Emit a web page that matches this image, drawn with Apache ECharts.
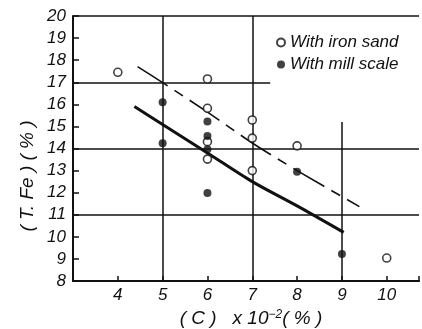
<!DOCTYPE html>
<html>
<head>
<meta charset="utf-8">
<script src="https://cdn.jsdelivr.net/npm/echarts@6/dist/echarts.min.js"></script>
<style>
  html, body { margin: 0; padding: 0; background: #fff; }
  #chart { width: 422px; height: 329px; }
</style>
</head>
<body>
<div id="chart"></div>
<script>
// 数据
var ironX = [4, 6, 6, 6, 6, 7, 7, 7, 8, 10];
var ironY = [17.45, 17.15, 15.82, 14.31, 13.52, 15.29, 14.47, 13.0, 14.12, 9.04];
var millX = [5, 5, 6, 6, 6, 6, 8, 9];
var millY = [16.09, 14.24, 15.22, 14.57, 13.97, 11.98, 12.95, 9.22];
var ironLineX = [4.44, 5, 6, 7, 8, 9.39];
var ironLineY = [17.71, 16.98, 15.65, 14.25, 13.0, 11.37];
var millLineX = [4.37, 5, 6, 7, 8, 9.04];
var millLineY = [15.9, 15.09, 13.8, 12.5, 11.4, 10.2];
var legendNames = ['With iron sand', 'With mill scale'];

function pairs(xs, ys) {
  var out = [];
  for (var i = 0; i < xs.length; i++) out.push([xs[i], ys[i]]);
  return out;
}

var font = 'Liberation Sans';
var chart = echarts.init(document.getElementById('chart'));

// 网格线（手绘图里有的只画了一段）
var gridLines = [
  { xAxis: 5 },
  { xAxis: 7 },
  [{ coord: [9, 8] }, { coord: [9, 15.2] }],
  { yAxis: 11 },
  { yAxis: 14 },
  [{ coord: [3, 17] }, { coord: [7.4, 17] }],
  { yAxis: 20 }
];

var option = {
  backgroundColor: '#fff',
  animation: false,
  grid: { left: 73, top: 16, right: 0, bottom: 48 },
  legend: {
    data: legendNames,
    orient: 'vertical',
    left: 271,
    top: 29,
    itemWidth: 8,
    itemHeight: 8,
    itemGap: 5,
    textStyle: { fontFamily: font, fontStyle: 'italic', fontSize: 17, color: '#111' }
  },
  xAxis: {
    type: 'value',
    min: 3,
    max: 10.72,
    interval: 1,
    axisLine: { lineStyle: { color: '#111', width: 2 } },
    axisTick: { inside: true, length: 5, lineStyle: { color: '#111', width: 1.5 } },
    splitLine: { show: false },
    axisLabel: {
      margin: 6,
      fontFamily: font, fontStyle: 'italic', fontSize: 17, color: '#111',
      formatter: function (v) { return (v >= 4 && v === Math.round(v)) ? v : ''; }
    }
  },
  yAxis: {
    type: 'value',
    min: 8,
    max: 20,
    interval: 1,
    axisLine: { lineStyle: { color: '#111', width: 2 } },
    axisTick: { inside: true, length: 6, lineStyle: { color: '#111', width: 1.5 } },
    splitLine: { show: false },
    axisLabel: {
      margin: 7,
      fontFamily: font, fontStyle: 'italic', fontSize: 17, color: '#111'
    }
  },
  series: [
    {
      name: 'With iron sand',
      type: 'scatter',
      symbol: 'circle',
      symbolSize: 8,
      itemStyle: { color: '#fff', borderColor: '#111', borderWidth: 1.6 },
      data: pairs(ironX, ironY),
      z: 5,
      markLine: {
        silent: true,
        symbol: ['none', 'none'],
        label: { show: false },
        lineStyle: { color: '#111', width: 1.5, type: 'solid' },
        data: gridLines
      }
    },
    {
      name: 'With mill scale',
      type: 'scatter',
      symbol: 'circle',
      symbolSize: 8,
      itemStyle: { color: '#111' },
      data: pairs(millX, millY),
      z: 5
    },
    {
      name: 'iron line',
      type: 'line',
      showSymbol: false,
      smooth: 0.3,
      lineStyle: { color: '#111', width: 1.6, type: [36, 8, 10, 8] },
      data: pairs(ironLineX, ironLineY),
      z: 3
    },
    {
      name: 'mill line',
      type: 'line',
      showSymbol: false,
      smooth: 0.3,
      lineStyle: { color: '#111', width: 3 },
      data: pairs(millLineX, millLineY),
      z: 3
    }
  ],
  graphic: [
    {
      type: 'text',
      x: 28,
      y: 176,
      rotation: Math.PI / 2,
      style: {
        text: '( T. Fe ) ( % )',
        fontFamily: font, fontStyle: 'italic', fontSize: 19, fill: '#111',
        align: 'center', verticalAlign: 'middle'
      }
    },
    {
      type: 'text',
      x: 251,
      y: 319,
      style: {
        text: '( C )   x 10{s|−2}( % )',
        fontFamily: font, fontStyle: 'italic', fontSize: 19, fill: '#111',
        align: 'center', verticalAlign: 'middle',
        rich: {
          s: { fontFamily: font, fontStyle: 'italic', fontSize: 12, fill: '#111', verticalAlign: 'top', padding: [0, 0, 8, 0] }
        }
      }
    }
  ]
};

chart.setOption(option);
</script>
</body>
</html>
